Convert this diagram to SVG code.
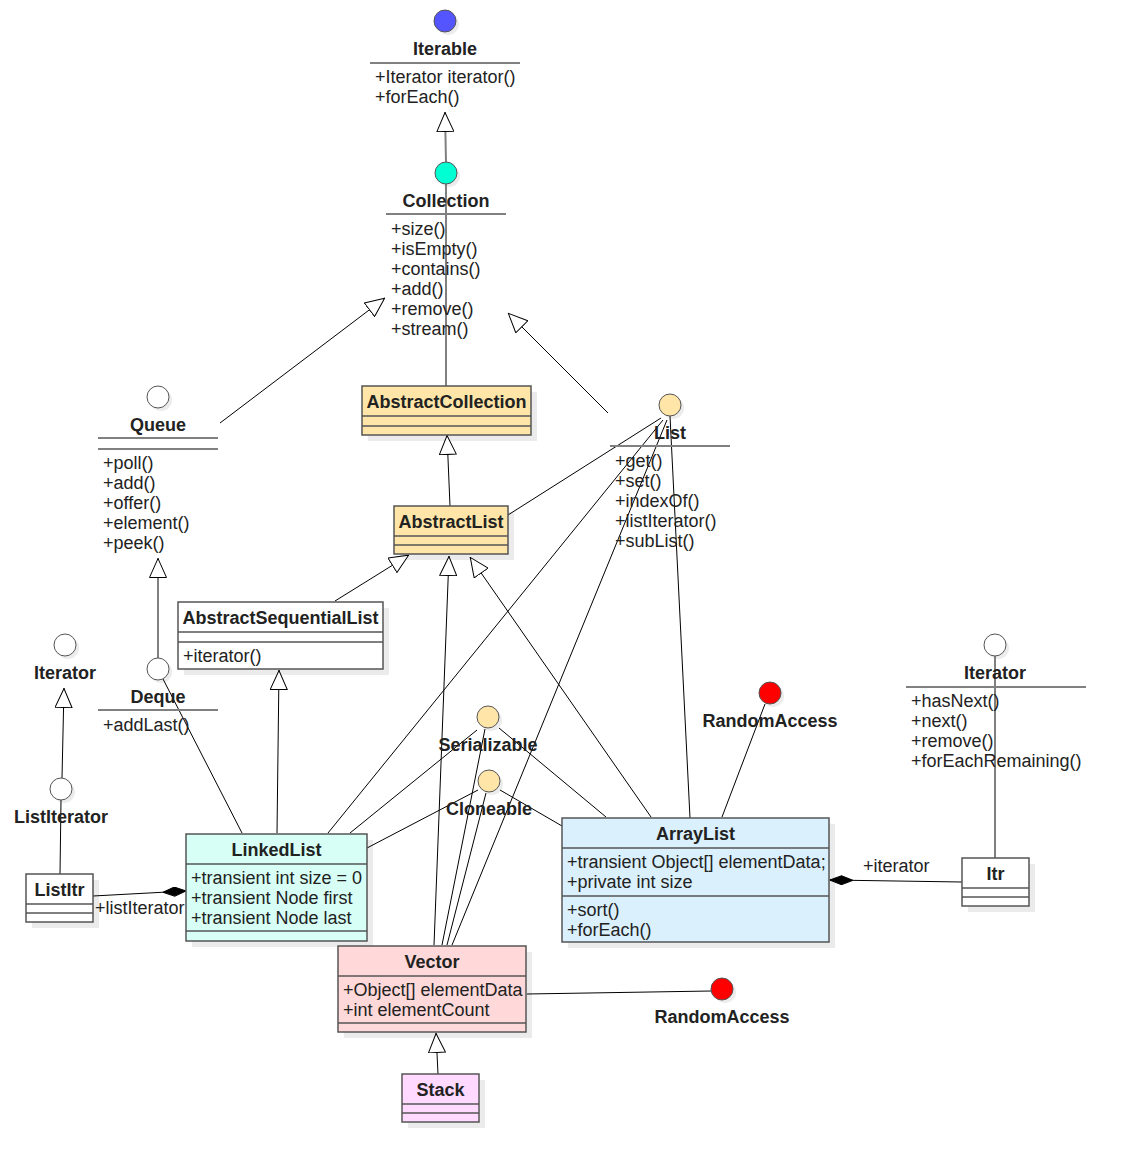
<svg xmlns="http://www.w3.org/2000/svg" width="1125" height="1163" viewBox="0 0 1125 1163">
<defs>
<marker id="tri" viewBox="0 0 20 18" refX="20" refY="9" markerWidth="20" markerHeight="18" markerUnits="userSpaceOnUse" orient="auto">
<path d="M0.5,0.5 L19.5,9 L0.5,17.5 Z" fill="#fff" stroke="#000" stroke-width="1"/>
</marker>
<marker id="dia" viewBox="0 0 24 10" refX="23.5" refY="5" markerWidth="24" markerHeight="10" markerUnits="userSpaceOnUse" orient="auto">
<path d="M0.5,5 L12,0.5 L23.5,5 L12,9.5 Z" fill="#000" stroke="#000" stroke-width="1"/>
</marker>
</defs>
<style>
text{font-family:"Liberation Sans",Arial,sans-serif;font-size:18px;fill:#222}
.b{font-weight:bold;text-anchor:middle}
.box{stroke:#555;stroke-width:1.5}
.sh{fill:#ebebeb}
.div{stroke:#555;stroke-width:1.5}
.sep{stroke:#808080;stroke-width:2}
.c{stroke:#555;stroke-width:1}
.csh{fill:#ececec}
.ln{stroke:#000;stroke-width:1;fill:none}
.gl{stroke:#808080;stroke-width:2;fill:none}
</style>
<rect width="1125" height="1163" fill="#fff"/>

<g id="shadows">
<circle class="csh" cx="448" cy="24" r="11"/>
<circle class="csh" cx="449" cy="176" r="11"/>
<rect class="sh" x="368" y="392" width="169" height="49"/>
<circle class="csh" cx="161" cy="400" r="11"/>
<circle class="csh" cx="673" cy="408" r="11"/>
<rect class="sh" x="400" y="512" width="114" height="48"/>
<rect class="sh" x="184" y="608" width="205" height="67"/>
<circle class="csh" cx="161" cy="672" r="11"/>
<circle class="csh" cx="68" cy="648" r="11"/>
<circle class="csh" cx="64" cy="792" r="11"/>
<rect class="sh" x="32" y="880" width="67" height="48"/>
<rect class="sh" x="192" y="840" width="181" height="107"/>
<circle class="csh" cx="491" cy="720" r="11"/>
<circle class="csh" cx="492" cy="784" r="11"/>
<circle class="csh" cx="773" cy="696" r="11"/>
<rect class="sh" x="568" y="824" width="267" height="124"/>
<circle class="csh" cx="998" cy="648" r="11"/>
<rect class="sh" x="968" y="864" width="67" height="48"/>
<rect class="sh" x="344" y="952" width="188" height="86"/>
<circle class="csh" cx="725" cy="992" r="11"/>
<rect class="sh" x="408" y="1080" width="77" height="48"/>
</g>

<g id="connectors">
<line class="gl" x1="446" y1="162" x2="445" y2="112" marker-end="url(#tri)"/>
<line class="gl" x1="446" y1="184" x2="446" y2="386"/>
<line class="ln" x1="220" y1="423" x2="385" y2="298" marker-end="url(#tri)"/>
<line class="ln" x1="608" y1="413" x2="508" y2="313" marker-end="url(#tri)"/>
<line class="ln" x1="450" y1="506" x2="447" y2="435" marker-end="url(#tri)"/>
<line class="ln" x1="661" y1="418" x2="508" y2="515"/>
<line class="ln" x1="335" y1="601" x2="409" y2="555" marker-end="url(#tri)"/>
<line class="ln" x1="277" y1="833" x2="279" y2="670" marker-end="url(#tri)"/>
<line class="gl" x1="158" y1="658" x2="158" y2="558" marker-end="url(#tri)"/>
<line class="ln" x1="163" y1="679" x2="242" y2="833"/>
<line class="ln" x1="62" y1="778" x2="64" y2="688" marker-end="url(#tri)"/>
<line class="ln" x1="61" y1="800" x2="60" y2="874"/>
<line class="ln" x1="93" y1="896" x2="186" y2="891" marker-end="url(#dia)"/>
<line class="ln" x1="663" y1="420" x2="328" y2="833"/>
<line class="ln" x1="477" y1="730" x2="350" y2="833"/>
<line class="ln" x1="478" y1="790" x2="367" y2="848"/>
<line class="ln" x1="434" y1="945" x2="449" y2="556" marker-end="url(#tri)"/>
<line class="ln" x1="485" y1="729" x2="442" y2="945"/>
<line class="ln" x1="486" y1="793" x2="447" y2="945"/>
<line class="ln" x1="667" y1="420" x2="452" y2="945"/>
<line class="ln" x1="651" y1="817" x2="470" y2="557" marker-end="url(#tri)"/>
<line class="ln" x1="499" y1="728" x2="606" y2="817"/>
<line class="ln" x1="500" y1="790" x2="562" y2="826"/>
<line class="ln" x1="670" y1="416" x2="690" y2="818"/>
<line class="ln" x1="765" y1="704" x2="722" y2="817"/>
<line class="ln" x1="962" y1="882" x2="830" y2="880" marker-end="url(#dia)"/>
<line class="gl" x1="995" y1="656" x2="995" y2="858"/>
<line class="ln" x1="527" y1="994" x2="711" y2="991"/>
<line class="ln" x1="438" y1="1074" x2="436" y2="1033" marker-end="url(#tri)"/>
<text x="95" y="914">+listIterator</text>
<text x="863" y="872">+iterator</text>
</g>

<g id="Iterable">
<circle class="c" cx="445" cy="21" r="11" fill="#5555ff"/>
<text class="b" x="445" y="55">Iterable</text>
<line class="sep" x1="370" y1="63" x2="520" y2="63"/>
<text x="375" y="83">+Iterator iterator()</text>
<text x="375" y="103">+forEach()</text>
</g>

<g id="Collection">
<circle class="c" cx="446" cy="173" r="11" fill="#00ffd2"/>
<text class="b" x="446" y="207">Collection</text>
<line class="sep" x1="386" y1="214" x2="506" y2="214"/>
<text x="391" y="235">+size()</text>
<text x="391" y="255">+isEmpty()</text>
<text x="391" y="275">+contains()</text>
<text x="391" y="295">+add()</text>
<text x="391" y="315">+remove()</text>
<text x="391" y="335">+stream()</text>
</g>

<g id="AbstractCollection">
<rect class="box" x="362" y="386" width="169" height="49" fill="#ffe6a8"/>
<line class="div" x1="362" y1="416" x2="531" y2="416"/>
<line class="div" x1="362" y1="426" x2="531" y2="426"/>
<text class="b" x="446.5" y="408">AbstractCollection</text>
</g>

<g id="Queue">
<circle class="c" cx="158" cy="397" r="11" fill="#fff"/>
<text class="b" x="158" y="431">Queue</text>
<line class="sep" x1="98" y1="438" x2="218" y2="438"/>
<line class="sep" x1="98" y1="449" x2="218" y2="449"/>
<text x="103" y="469">+poll()</text>
<text x="103" y="489">+add()</text>
<text x="103" y="509">+offer()</text>
<text x="103" y="529">+element()</text>
<text x="103" y="549">+peek()</text>
</g>

<g id="List">
<circle class="c" cx="670" cy="405" r="11" fill="#ffe6a8"/>
<text class="b" x="670" y="439">List</text>
<line class="sep" x1="610" y1="446" x2="730" y2="446"/>
<text x="615" y="467">+get()</text>
<text x="615" y="487">+set()</text>
<text x="615" y="507">+indexOf()</text>
<text x="615" y="527">+listIterator()</text>
<text x="615" y="547">+subList()</text>
</g>

<g id="AbstractList">
<rect class="box" x="394" y="506" width="114" height="48" fill="#ffe6a8"/>
<line class="div" x1="394" y1="536" x2="508" y2="536"/>
<line class="div" x1="394" y1="545" x2="508" y2="545"/>
<text class="b" x="451" y="528">AbstractList</text>
</g>

<g id="AbstractSequentialList">
<rect class="box" x="178" y="602" width="205" height="67" fill="#fff"/>
<line class="div" x1="178" y1="632" x2="383" y2="632"/>
<line class="div" x1="178" y1="642" x2="383" y2="642"/>
<text class="b" x="280.5" y="624">AbstractSequentialList</text>
<text x="183" y="662">+iterator()</text>
</g>

<g id="Deque">
<circle class="c" cx="158" cy="669" r="11" fill="#fff"/>
<text class="b" x="158" y="703">Deque</text>
<line class="sep" x1="98" y1="710" x2="218" y2="710"/>
<text x="103" y="731">+addLast()</text>
</g>

<g id="IteratorLeft">
<circle class="c" cx="65" cy="645" r="11" fill="#fff"/>
<text class="b" x="65" y="679">Iterator</text>
</g>

<g id="ListIterator">
<circle class="c" cx="61" cy="789" r="11" fill="#fff"/>
<text class="b" x="61" y="823">ListIterator</text>
</g>

<g id="ListItr">
<rect class="box" x="26" y="874" width="67" height="48" fill="#fff"/>
<line class="div" x1="26" y1="904" x2="93" y2="904"/>
<line class="div" x1="26" y1="913" x2="93" y2="913"/>
<text class="b" x="59.5" y="896">ListItr</text>
</g>

<g id="LinkedList">
<rect class="box" x="186" y="834" width="181" height="107" fill="#d8fff6"/>
<line class="div" x1="186" y1="864" x2="367" y2="864"/>
<line class="div" x1="186" y1="931" x2="367" y2="931"/>
<text class="b" x="276.5" y="856">LinkedList</text>
<text x="191" y="884">+transient int size = 0</text>
<text x="191" y="904">+transient Node first</text>
<text x="191" y="924">+transient Node last</text>
</g>

<g id="Serializable">
<circle class="c" cx="488" cy="717" r="11" fill="#ffe6a8"/>
<text class="b" x="488" y="751">Serializable</text>
</g>

<g id="Cloneable">
<circle class="c" cx="489" cy="781" r="11" fill="#ffe6a8"/>
<text class="b" x="489" y="815">Cloneable</text>
</g>

<g id="RandomAccess1">
<circle class="c" cx="770" cy="693" r="11" fill="#ff0000"/>
<text class="b" x="770" y="727">RandomAccess</text>
</g>

<g id="ArrayList">
<rect class="box" x="562" y="818" width="267" height="124" fill="#daf0fd"/>
<line class="div" x1="562" y1="848" x2="829" y2="848"/>
<line class="div" x1="562" y1="896" x2="829" y2="896"/>
<text class="b" x="695.5" y="840">ArrayList</text>
<text x="567" y="868">+transient Object[] elementData;</text>
<text x="567" y="888">+private int size</text>
<text x="567" y="916">+sort()</text>
<text x="567" y="936">+forEach()</text>
</g>

<g id="IteratorRight">
<circle class="c" cx="995" cy="645" r="11" fill="#fff"/>
<text class="b" x="995" y="679">Iterator</text>
<line class="sep" x1="906" y1="687" x2="1086" y2="687"/>
<text x="911" y="707">+hasNext()</text>
<text x="911" y="727">+next()</text>
<text x="911" y="747">+remove()</text>
<text x="911" y="767">+forEachRemaining()</text>
</g>

<g id="Itr">
<rect class="box" x="962" y="858" width="67" height="48" fill="#fff"/>
<line class="div" x1="962" y1="888" x2="1029" y2="888"/>
<line class="div" x1="962" y1="897" x2="1029" y2="897"/>
<text class="b" x="995.5" y="880">Itr</text>
</g>

<g id="Vector">
<rect class="box" x="338" y="946" width="188" height="86" fill="#ffd9d9"/>
<line class="div" x1="338" y1="976" x2="526" y2="976"/>
<line class="div" x1="338" y1="1023" x2="526" y2="1023"/>
<text class="b" x="432" y="968">Vector</text>
<text x="343" y="996">+Object[] elementData</text>
<text x="343" y="1016">+int elementCount</text>
</g>

<g id="RandomAccess2">
<circle class="c" cx="722" cy="989" r="11" fill="#ff0000"/>
<text class="b" x="722" y="1023">RandomAccess</text>
</g>

<g id="Stack">
<rect class="box" x="402" y="1074" width="77" height="48" fill="#ffd9ff"/>
<line class="div" x1="402" y1="1104" x2="479" y2="1104"/>
<line class="div" x1="402" y1="1113" x2="479" y2="1113"/>
<text class="b" x="440.5" y="1096">Stack</text>
</g>
</svg>
